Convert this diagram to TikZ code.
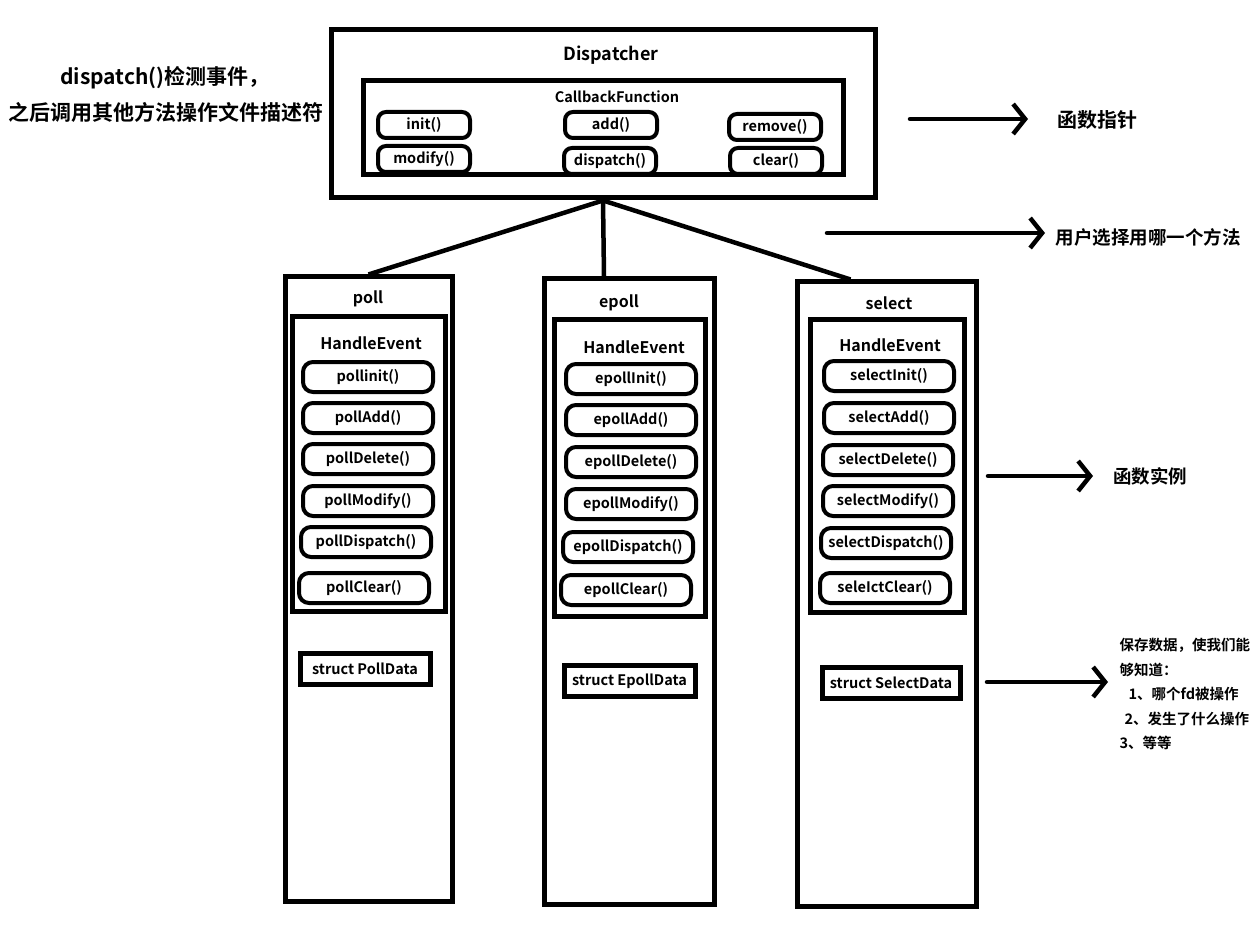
\documentclass[tikz,border=0pt]{standalone}
\usepackage{fontspec}
\setmainfont{Noto Sans CJK SC}[BoldFont=* Bold]
\usetikzlibrary{arrows.meta}

\tikzset{
  frame/.style={draw, line width=5pt, inner sep=0pt},
  title/.style={font=\fontsize{16}{16}\selectfont\bfseries},
  method/.style={draw, line width=4pt, rounded corners=10pt, inner sep=0pt, minimum width=130pt, minimum height=30pt, font=\fontsize{14.5}{14.5}\selectfont\bfseries},
  cbmethod/.style={method, minimum width=92pt, minimum height=26pt, rounded corners=8pt},
  datastruct/.style={draw, line width=5pt, inner sep=0pt, minimum height=31pt, font=\fontsize{14.5}{14.5}\selectfont\bfseries},
  remark/.style={font=\fontsize{19}{19}\selectfont\bfseries},
  link/.style={line width=4.5pt},
  pointer/.style={line width=4.5pt, line cap=round, -{Straight Barb[length=12pt, width=30pt]}}
}

\begin{document}
\begin{tikzpicture}[x=1pt, y=-1pt]
\useasboundingbox (0,0) rectangle (1260,949);
\fill [white] (0,0) rectangle (1260,949);

\node [remark, font=\fontsize{21}{21}\selectfont\bfseries] (lefta) at (165,78) {dispatch()检测事件，};
\node [remark, font=\fontsize{21}{21}\selectfont\bfseries] (leftb) at (166,112) {之后调用其他方法操作文件描述符};

\node [frame, minimum width=544pt, minimum height=168pt] (disp) at (603,114) {};
\node [title, font=\fontsize{18}{18}\selectfont\bfseries] (disptitle) at (611,55) {Dispatcher};
\node [frame, minimum width=480pt, minimum height=94pt] (cbf) at (603,128) {};
\node [title, font=\fontsize{14.5}{14.5}\selectfont\bfseries] (cbftitle) at (617,97) {CallbackFunction};
\node [cbmethod] (init) at (424,125) {init()};
\node [cbmethod] (add) at (611,125) {add()};
\node [cbmethod] (remove) at (775,127) {remove()};
\node [cbmethod] (modify) at (424,159) {modify()};
\node [cbmethod] (dispatchm) at (610,161) {dispatch()};
\node [cbmethod] (clear) at (776,161) {clear()};

\node [frame, minimum width=167pt, minimum height=624pt] (poll) at (368.5,589) {};
\node [title] (polltitle) at (368,299) {poll};
\node [frame, minimum width=153pt, minimum height=294pt] (pollhe) at (368.5,464) {};
\node [title] (pollhetitle) at (371,343) {HandleEvent};
\node [method] (pollinit) at (368,377) {pollinit()};
\node [method] (polladd) at (368,418) {pollAdd()};
\node [method] (polldelete) at (368,459) {pollDelete()};
\node [method] (pollmodify) at (368,501) {pollModify()};
\node [method] (polldispatch) at (366,542) {pollDispatch()};
\node [method] (pollclear) at (364,588) {pollClear()};
\node [datastruct, minimum width=130pt] (polldata) at (365,668.5) {struct PollData};

\node [frame, minimum width=170pt, minimum height=625pt] (epoll) at (629,591.5) {};
\node [title] (epolltitle) at (619,303) {epoll};
\node [frame, minimum width=151pt, minimum height=296pt] (epollhe) at (629.5,468) {};
\node [title] (epollhetitle) at (634,347) {HandleEvent};
\node [method] (epollinit) at (631,379) {epollInit()};
\node [method] (epolladd) at (631,420) {epollAdd()};
\node [method] (epolldelete) at (631,462) {epollDelete()};
\node [method] (epollmodify) at (631,504) {epollModify()};
\node [method] (epolldispatch) at (628,547) {epollDispatch()};
\node [method] (epollclear) at (626,590) {epollClear()};
\node [datastruct, minimum width=131pt] (epolldata) at (629.5,681) {struct EpollData};

\node [frame, minimum width=179pt, minimum height=624pt] (select) at (886.5,594) {};
\node [title] (selecttitle) at (889,303) {select};
\node [frame, minimum width=154pt, minimum height=292pt] (selecthe) at (887,466) {};
\node [title] (selecthetitle) at (890,345) {HandleEvent};
\node [method] (selectinit) at (889,376) {selectInit()};
\node [method] (selectadd) at (889,418) {selectAdd()};
\node [method] (selectdelete) at (888,460) {selectDelete()};
\node [method] (selectmodify) at (888,501) {selectModify()};
\node [method] (selectdispatch) at (886,543) {selectDispatch()};
\node [method] (selectclear) at (885,588) {seleIctClear()};
\node [datastruct, minimum width=138pt] (selectdata) at (891,682.5) {struct SelectData};

\draw [link] (disp.south) -- (poll.north);
\draw [link] (disp.south) -- ([xshift=-25pt]epoll.north);
\draw [link] (disp.south) -- ([xshift=-36pt]select.north);

\coordinate (fpfrom) at (910,119);
\coordinate (fpto) at (1028,119);
\node [remark, font=\fontsize{20}{20}\selectfont\bfseries] (fplabel) at (1097,120) {函数指针};
\draw [pointer] (fpfrom) -- (fpto);

\coordinate (choosefrom) at (827,233);
\coordinate (chooseto) at (1045,233);
\node [remark, font=\fontsize{18.5}{18.5}\selectfont\bfseries] (chooselabel) at (1148,237) {用户选择用哪一个方法};
\draw [pointer] (choosefrom) -- (chooseto);

\coordinate (instfrom) at (988,476);
\coordinate (instto) at (1093,476);
\node [remark, font=\fontsize{18.5}{18.5}\selectfont\bfseries] (instlabel) at (1150,476) {函数实例};
\draw [pointer] (instfrom) -- (instto);

\coordinate (datafrom) at (987,682);
\coordinate (datato) at (1108,682);
\node [remark, font=\fontsize{14.5}{24.5}\selectfont\bfseries, align=left, anchor=west] (datalabel) at (1116,694)
  {保存数据，使我们能\\够知道：\\\hspace*{9pt}1、哪个fd被操作\\\hspace*{5pt}2、发生了什么操作\\3、等等};
\draw [pointer] (datafrom) -- (datato);
\end{tikzpicture}
\end{document}
